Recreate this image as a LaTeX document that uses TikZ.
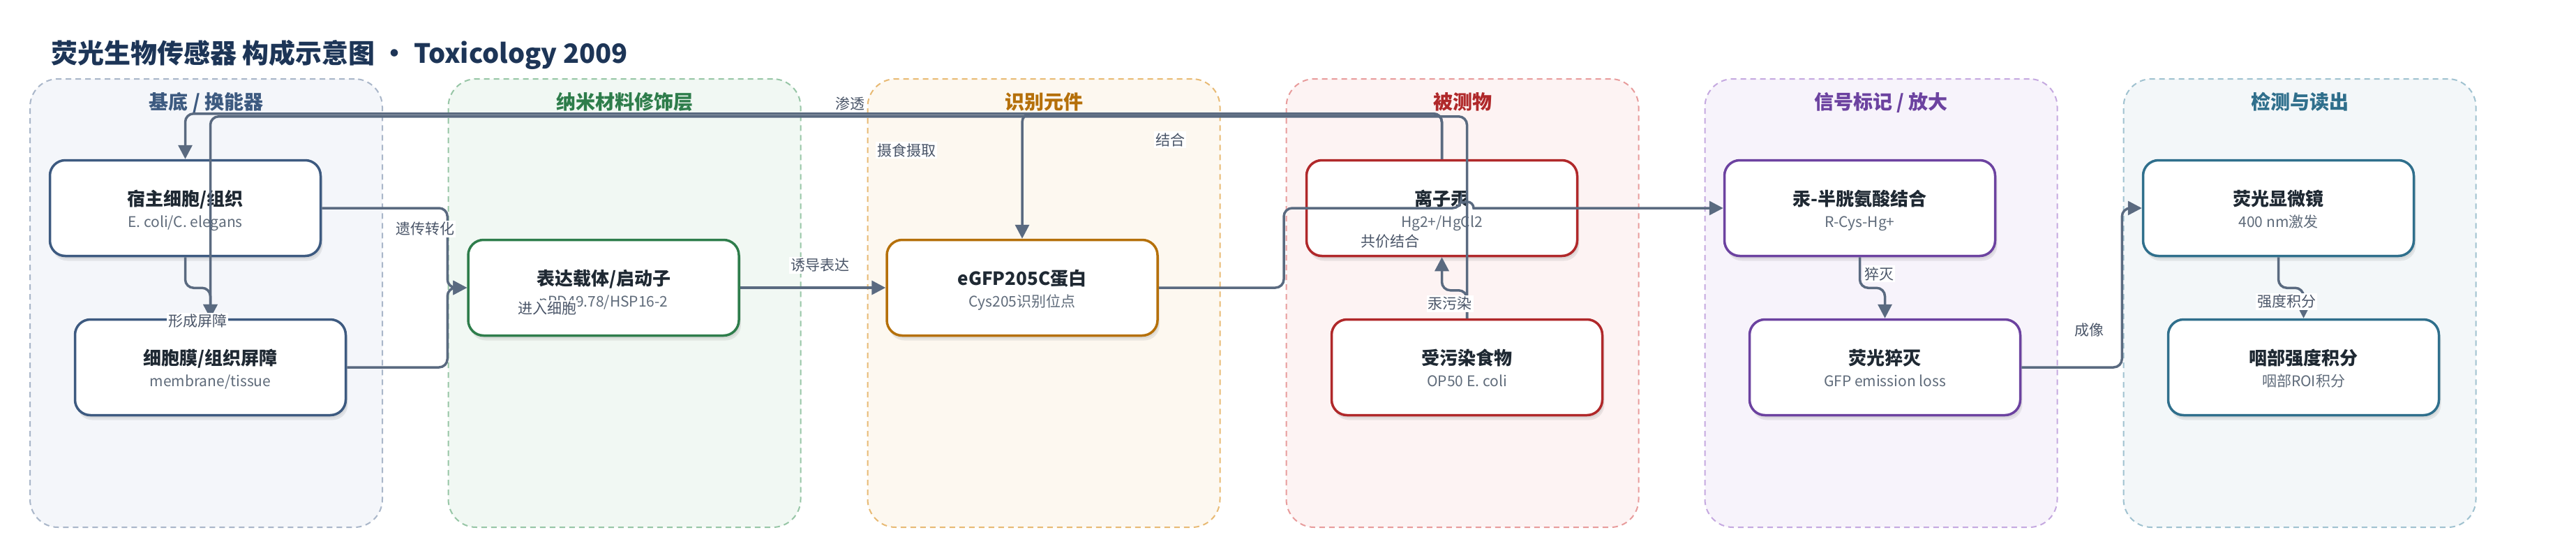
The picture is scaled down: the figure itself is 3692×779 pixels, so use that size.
\documentclass[tikz,border=0pt]{standalone}
\usepackage{fontspec}
\setmainfont{Noto Sans CJK SC}
\usetikzlibrary{arrows.meta,shadows}
\definecolor{titlec}{HTML}{1D3557}
\definecolor{edgec}{HTML}{5A6A80}
\definecolor{labc}{HTML}{4A5568}
\definecolor{ntext}{HTML}{1F2933}
\definecolor{stext}{HTML}{5F6B7A}
\definecolor{gAf}{HTML}{F4F6FA}\definecolor{gAd}{HTML}{A9B6C9}\definecolor{gAm}{HTML}{3D5A80}
\definecolor{gBf}{HTML}{F1F8F3}\definecolor{gBd}{HTML}{97C6A6}\definecolor{gBm}{HTML}{2E7D4B}
\definecolor{gCf}{HTML}{FDF8F0}\definecolor{gCd}{HTML}{E8BA74}\definecolor{gCm}{HTML}{B5700A}
\definecolor{gDf}{HTML}{FDF3F3}\definecolor{gDd}{HTML}{E89C9C}\definecolor{gDm}{HTML}{B0282A}
\definecolor{gEf}{HTML}{F7F3FB}\definecolor{gEd}{HTML}{C5A9E0}\definecolor{gEm}{HTML}{6C42A0}
\definecolor{gFf}{HTML}{F3F7F9}\definecolor{gFd}{HTML}{A0C2D0}\definecolor{gFm}{HTML}{2F6F8C}
\tikzset{
  grp/.style={line width=2pt, dash pattern=on 8pt off 6pt, rounded corners=40pt,
    minimum width=505pt, minimum height=642pt, inner sep=0pt},
  gtitle/.style={anchor=base, inner sep=0pt, font=\fontsize{28}{32}\selectfont\bfseries},
  box/.style={line width=3.5pt, rounded corners=22pt, fill=white, inner sep=0pt,
    minimum width=388pt, minimum height=137pt,
    drop shadow={shadow xshift=3pt, shadow yshift=-7pt, opacity=0.10, fill=black!70},
    drop shadow={shadow xshift=2pt, shadow yshift=-4pt, opacity=0.08, fill=black!70}},
  ntitle/.style={anchor=base, inner sep=0pt, text=ntext, font=\fontsize{26}{30}\selectfont\bfseries},
  nsub/.style={anchor=base, inner sep=0pt, text=stext, font=\fontsize{21}{25}\selectfont},
  conn/.style={draw=edgec, line width=3.5pt, rounded corners=12pt,
    -{Triangle[length=20pt,width=20pt]}},
  elab/.style={fill=white, inner sep=2pt, text=labc, font=\fontsize{21}{25}\selectfont},
}
\newcommand\mkbox[6]{%
  \node[box, draw=#2] (#1) at (#3,#4) {};
  \node[ntitle] (#1-t) at ([yshift=4pt]#1.center) {#5};
  \node[nsub] (#1-s) at ([yshift=-27pt]#1.center) {#6};
}
\begin{document}
\begin{tikzpicture}[x=1pt,y=-1pt]
\useasboundingbox[fill=white] (0,0) rectangle (3692,779);
% title
\node[anchor=base west, inner sep=0pt, text=titlec, font=\fontsize{38}{44}\selectfont\bfseries] (title) at (73,90) {荧光生物传感器 构成示意图 · Toxicology 2009};
% groups
\node[grp, draw=gAd, fill=gAf] (g1) at (295.5,434) {};
\node[grp, draw=gBd, fill=gBf] (g2) at (895,434) {};
\node[grp, draw=gCd, fill=gCf] (g3) at (1496,434) {};
\node[grp, draw=gDd, fill=gDf] (g4) at (2096,434) {};
\node[grp, draw=gEd, fill=gEf] (g5) at (2696,434) {};
\node[grp, draw=gFd, fill=gFf] (g6) at (3296,434) {};
\node[gtitle, text=gAm] (g1t) at (295.5,156) {基底 / 换能器};
\node[gtitle, text=gBm] (g2t) at (895,156) {纳米材料修饰层};
\node[gtitle, text=gCm] (g3t) at (1496,156) {识别元件};
\node[gtitle, text=gDm] (g4t) at (2096,156) {被测物};
\node[gtitle, text=gEm] (g5t) at (2696,156) {信号标记 / 放大};
\node[gtitle, text=gFm] (g6t) at (3296,156) {检测与读出};
% boxes
\mkbox{host}{gAm}{265.5}{298}{宿主细胞/组织}{E. coli/C. elegans}
\mkbox{memb}{gAm}{301.5}{526}{细胞膜/组织屏障}{membrane/tissue}
\mkbox{expr}{gBm}{865}{412}{表达载体/启动子}{pPD49.78/HSP16-2}
\mkbox{egfp}{gCm}{1465}{412}{eGFP205C蛋白}{Cys205识别位点}
\mkbox{hg}{gDm}{2066.5}{298}{离子汞}{Hg2+/HgCl2}
\mkbox{food}{gDm}{2102.5}{526}{受污染食物}{OP50 E. coli}
\mkbox{hgcys}{gEm}{2665.5}{298}{汞-半胱氨酸结合}{R-Cys-Hg+}
\mkbox{quench}{gEm}{2701.5}{526}{荧光猝灭}{GFP emission loss}
\mkbox{micro}{gFm}{3265.5}{298}{荧光显微镜}{400 nm激发}
\mkbox{phar}{gFm}{3301.5}{526}{咽部强度积分}{咽部ROI积分}
% connectors
\draw[conn] (hg.north) -- ++(0,-65) -| (host.north);
\draw[conn] (hg.north) -- ++(0,-65) -| (egfp.north);
\draw[conn] (food.north) -- ++(0,-289) -| (memb.north);
\draw[conn] (food.north) -- ++(0,-40) -| (hg.south);
\draw[conn] (host.south) -- ++(0,44) -| (memb.north);
\draw[conn] (host.east) -- ++(180,0) |- (expr.west);
\draw[conn] (memb.east) -- ++(144,0) |- (expr.west);
\draw[conn] (expr.east) -- (egfp.west);
\draw[conn] (egfp.east) -- (1840,412) -- (1840,298) -- (2094,298) [sharp corners] arc[start angle=180, end angle=0, radius=9pt] -- (hgcys.west);
\draw[conn] (hgcys.south) -- ++(0,44) -| (quench.north);
\draw[conn] (quench.east) -- ++(144,0) |- (micro.west);
\draw[conn] (micro.south) -- ++(0,44) -| (phar.north);
% labels
\node[elab] (l1) at (1218,148) {渗透};
\node[elab] (l2) at (1299,215) {摄食摄取};
\node[elab] (l3) at (1677,200) {结合};
\node[elab] (l4) at (609,328) {遗传转化};
\node[elab] (l5) at (784,442) {进入细胞};
\node[elab] (l6) at (283,460) {形成屏障};
\node[elab] (l7) at (1175,380) {诱导表达};
\node[elab] (l8) at (1992,346) {共价结合};
\node[elab] (l9) at (2078,435) {汞污染};
\node[elab] (l10) at (2693,392) {猝灭};
\node[elab] (l11) at (2994,473) {成像};
\node[elab] (l12) at (3277,432) {强度积分};
\end{tikzpicture}
\end{document}
